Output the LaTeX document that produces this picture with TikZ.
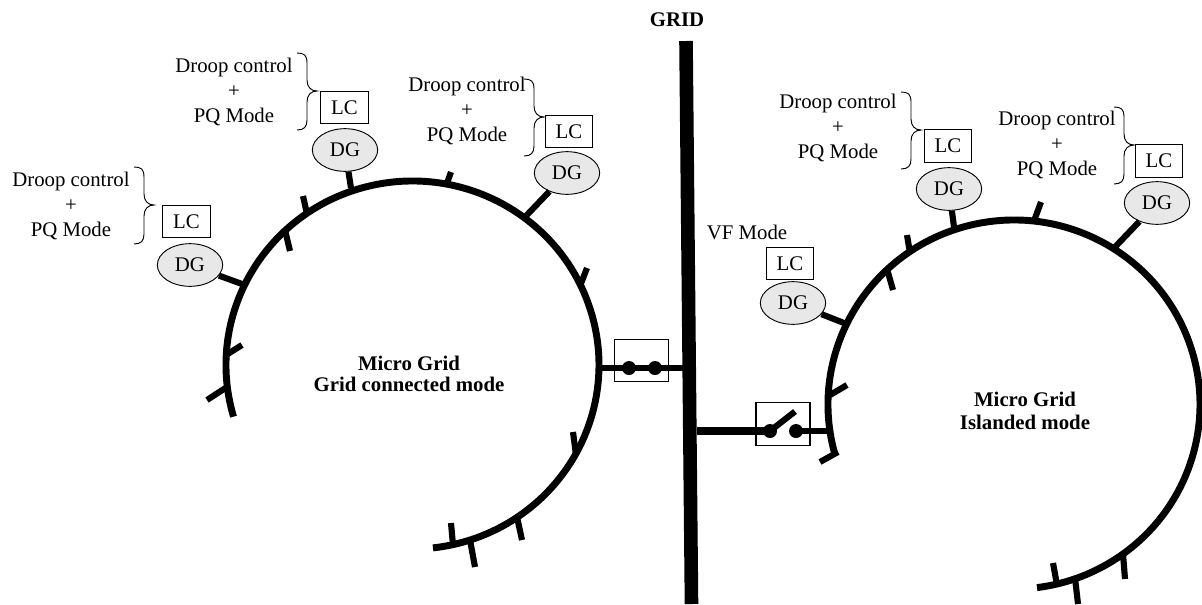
\documentclass[tikz,border=0pt]{standalone}
\usepackage{fontspec}
\setmainfont{Liberation Serif}
\usetikzlibrary{shapes.geometric}
\tikzset{
  lbl/.style={inner sep=0pt,align=center,font=\fontsize{15.6}{18.75}\selectfont},
  blbl/.style={inner sep=0pt,align=center,font=\fontsize{15.6}{#1}\selectfont\bfseries},
  lcbox/.style={draw,line width=0.9pt,minimum width=35.5pt,minimum height=24.2pt,inner sep=0pt,font=\fontsize{15.6}{18}\selectfont},
  dgell/.style={draw,ellipse,fill=black!9,line width=0.7pt,minimum width=49pt,minimum height=32pt,inner sep=0pt,font=\fontsize{15.6}{18}\selectfont},
  swbox/.style={draw,line width=0.9pt,inner sep=0pt},
  bus/.style={line width=5.2pt},
  stub/.style={line width=4.6pt},
  brc/.style={line width=0.7pt},
  contact/.style={circle,fill=black,minimum size=10.5pt,inner sep=0pt},
  bar/.style={line width=10.2pt}
}
\newcommand{\curly}[2]{%
  \draw[brc] ({#1-20},{#2-38}) .. controls ({#1-13},{#2-38}) and ({#1-10},{#2-36}) .. ({#1-10},{#2-28})
   -- ({#1-10},{#2-11}) .. controls ({#1-10},{#2-4}) and ({#1-6},{#2}) .. (#1,#2)
   .. controls ({#1-6},{#2}) and ({#1-10},{#2+4}) .. ({#1-10},{#2+11})
   -- ({#1-10},{#2+29}) .. controls ({#1-10},{#2+36}) and ({#1-13},{#2+39}) .. ({#1-20},{#2+39});}
\begin{document}
\begin{tikzpicture}[x=0.75pt,y=-0.75pt]
\useasboundingbox (0,0) rectangle (1202,604);
% grid
\coordinate (gt) at (686,41); \coordinate (gb) at (691.5,604);
\draw[bar] (gt) -- (gb);
\node[blbl=18] (gridlbl) at (677,20) {GRID};
% left ring
\draw[bus] (412.5,365) ++(163.7:186.5 and 184) arc[start angle=163.7,end angle=443.7,x radius=186.5,y radius=184];
\node[blbl=15.3] (ml) at (409,374) {Micro Grid\\Grid connected mode};
% right ring
\draw[bus] (1014,404.5) ++(164.9:186 and 184.5) arc[start angle=164.9,end angle=442.9,x radius=186,y radius=184.5];
\node[blbl=17.2] (mr) at (1025,411) {Micro Grid\\Islanded mode};
% ticks left
\draw[stub] (285,230) -- (290,251);
\draw[stub] (303,196) -- (307,214);
\draw[stub] (451,172) -- (446,186);
\draw[stub] (587,268) -- (580,286);
\draw[stub] (573,432) -- (576,455);
\draw[stub] (451,523) -- (453,545);
\draw[stub] (470,540) -- (475,567);
\draw[stub] (517,517) -- (522,540);
\draw[stub] (242,345) -- (226,355);
\draw[stub] (227,387) -- (207,400);
% ticks right
\draw[stub] (907,235) -- (910,253);
\draw[stub] (887,269) -- (893,290);
\draw[stub] (1041,202) -- (1034,221);
\draw[stub] (847,385) -- (830,395);
\draw[stub] (820,462) -- (838,452);
\draw[stub] (1053,563) -- (1057,585);
\draw[stub] (1075,578) -- (1078,604);
\draw[stub] (1123,554) -- (1125,579);
% text
\node[lbl] (ta) at (234,92) {Droop control\\+\\PQ Mode};
\node[lbl] (tb) at (71,206) {Droop control\\+\\PQ Mode};
\node[lbl] (tc) at (467,111) {Droop control\\+\\PQ Mode};
\node[lbl] (td) at (838,128) {Droop control\\+\\PQ Mode};
\node[lbl] (te) at (1057,145) {Droop control\\+\\PQ Mode};
\node[lbl] (tf) at (747,232) {VF Mode};
\curly{317}{91}
\curly{154}{205}
\curly{544}{117}
\curly{921}{130}
\curly{1134}{145}
% LC
\node[lcbox] (lca) at (344.5,107.5) {LC};
\node[lcbox] (lcb) at (186.5,221.5) {LC};
\node[lcbox] (lcc) at (569,131.5) {LC};
\node[lcbox] (lcd) at (948,146) {LC};
\node[lcbox] (lce) at (1159,161) {LC};
\node[lcbox] (lcf) at (790,263.5) {LC};
% DG
\node[dgell] (dga) at (345,150) {DG};
\node[dgell] (dgb) at (190,265) {DG};
\node[dgell] (dgc) at (567,173) {DG};
\node[dgell] (dgd) at (949,189) {DG};
\node[dgell] (dge) at (1157,203) {DG};
\node[dgell] (dgf) at (793,303) {DG};
\coordinate (pa) at (351,188);
\coordinate (pb) at (242,284);
\coordinate (pc) at (525,217);
\coordinate (pd) at (954,227);
\coordinate (pe) at (1115,247);
\coordinate (pf) at (844,323);
\foreach \n in {a,b,c,d,e,f}{\draw[stub] (dg\n) -- (p\n);}
% switch left
\node[swbox,minimum width=41pt,minimum height=32pt] (swl) at (641.5,360.5) {};
\coordinate (bl) at (600,368); \coordinate (gl) at (684,368);
\draw[stub] (bl) -- (gl);
\node[contact] (c1) at (629,368) {};
\node[contact] (c2) at (655,368) {};
% switch right
\node[swbox,minimum width=40.5pt,minimum height=32pt] (swr) at (783,424) {};
\coordinate (gr) at (697,431); \coordinate (br) at (828,431); \coordinate (blade) at (795,411.5);
\node[contact] (c3) at (770,431) {};
\node[contact] (c4) at (796,431) {};
\draw[line width=5.4pt] (gr) -- (c3.center);
\draw[stub] (c4.center) -- (br);
\draw[stub] (c3.center) -- (blade);
\end{tikzpicture}
\end{document}
